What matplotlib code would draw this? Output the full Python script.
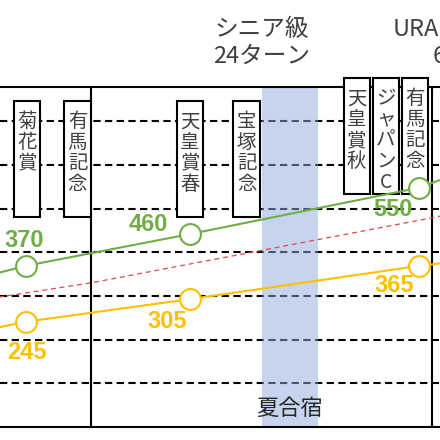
import matplotlib
matplotlib.use("Agg")
import matplotlib.pyplot as plt
from matplotlib.patches import Rectangle

plt.rcParams["font.family"] = ["Noto Sans CJK JP", "DejaVu Sans"]

# ─── data ────────────────────────────────────────────────────────────────────
# x = turn index, senior year starts at 0 (classic year is negative)
green_turns = [-12.0, -4.6, 7.0, 23.1, 27.0]
green_vals = [307, 369, 442, 548, 595]
green_labels = ["", "370", "460", "550", ""]

yellow_turns = [-12.0, -4.6, 7.0, 23.1, 27.0]
yellow_vals = [191, 241, 293, 369, 384]
yellow_labels = ["", "245", "305", "365", ""]

target_turns = [-24, 0, 24, 30]
target_vals = [210, 330, 479, 521]

races = ["菊花賞", "有馬記念", "天皇賞春", "宝塚記念", "天皇賞秋", "ジャパンC", "有馬記念"]
race_turns = [-4.5, -0.95, 6.97, 10.95, 18.7, 20.75, 22.8]

camp_start, camp_end = 12, 16
grid_vals = [100, 200, 300, 400, 500, 600, 700]

GREEN = "#70ad47"
YELLOW = "#ffc000"
TEXT = "#404040"

# ─── plot ────────────────────────────────────────────────────────────────────
fig = plt.figure(figsize=(4.4, 4.4), dpi=100)
ax = fig.add_axes([0, 13 / 440, 1, 340 / 440])
px_turn = (432 - 91) / 24
ax.set_xlim(-91 / px_turn, (440 - 91) / px_turn)
ax.set_ylim(0, 778.6)
ax.set_xticks([])
ax.set_yticks([])
for side in ("left", "right"):
    ax.spines[side].set_visible(False)
for side in ("top", "bottom"):
    ax.spines[side].set_linewidth(1.5)
    ax.spines[side].set_color("black")

for v in grid_vals:
    ax.axhline(v, color="black", lw=1.5, ls=(0, (3.5, 2.1)), zorder=1)

ax.axvspan(camp_start, camp_end, color="#8faadc", alpha=0.5, lw=0, zorder=1.5)
ax.text((camp_start + camp_end) / 2, 43, "夏合宿", ha="center", va="center",
        fontsize=16, color="#262626", zorder=6)

for t in (0, 24):
    ax.axvline(t, color="black", lw=1.5, zorder=2)

# race boxes with vertical text
box_w, box_h = 1.85, 265
for name, t in zip(races, race_turns):
    top = 799 if t > camp_end else 747
    ax.add_patch(Rectangle((t - box_w / 2, top - box_h), box_w, box_h,
                           fc="white", ec="black", lw=1.5, zorder=3, clip_on=False))
    for i, ch in enumerate(name):
        ax.annotate(ch, xy=(t, top), xytext=(0, -15 - i * 15),
                    textcoords="offset points", ha="center", va="center",
                    fontsize=14, color=TEXT, zorder=4, annotation_clip=False)

ax.plot(target_turns, target_vals, color="#e04848", lw=0.9,
        ls=(0, (4, 3)), zorder=4.5)

for turns, vals, col in ((green_turns, green_vals, GREEN),
                         (yellow_turns, yellow_vals, YELLOW)):
    ax.plot(turns, vals, color=col, lw=1.5, marker="o", ms=15,
            mfc="white", mec=col, mew=1.5, zorder=5)

green_offsets = [None, (-1.4, 18), (-30, 6.5), (-19, -16), None]
yellow_offsets = [None, (0.7, -22), (-17, -16.5), (-18, -14.4), None]
for turns, vals, labels, offs, col in (
        (green_turns, green_vals, green_labels, green_offsets, GREEN),
        (yellow_turns, yellow_vals, yellow_labels, yellow_offsets, YELLOW)):
    for t, v, lab, off in zip(turns, vals, labels, offs):
        if not lab:
            continue
        ax.annotate(lab, xy=(t, v), xytext=off, textcoords="offset points",
                    ha="center", va="center", fontsize=17, fontweight="bold",
                    family="Liberation Sans", color=col, zorder=6)

# period headers above the plot
ax.text(12, 1.129, "シニア級\n24ターン", transform=ax.get_xaxis_transform(),
        ha="center", va="center", fontsize=17, color=TEXT, linespacing=1.2)
ax.text(27, 1.129, "URAファイナル\n6ターン", transform=ax.get_xaxis_transform(),
        ha="center", va="center", fontsize=17, color=TEXT, linespacing=1.2)

fig.savefig("out.png", dpi=100)
